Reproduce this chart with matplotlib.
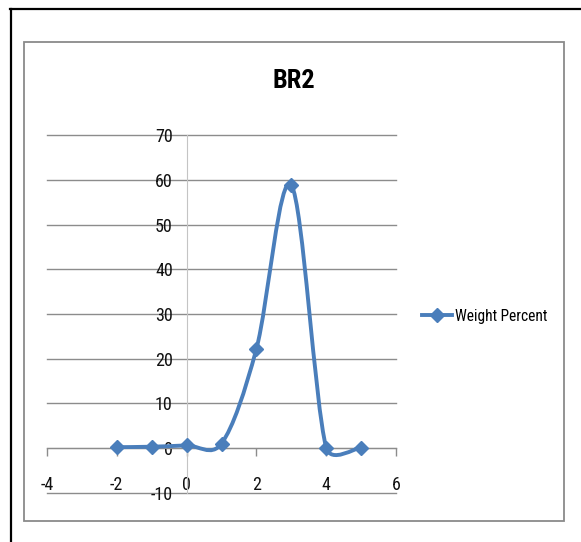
import matplotlib
matplotlib.use('Agg')
import matplotlib.pyplot as plt
import numpy as np
from matplotlib import font_manager
from matplotlib.path import Path
from matplotlib.patches import PathPatch, Rectangle
from matplotlib.lines import Line2D

# prefer a narrow face if one is around
installed = {f.name for f in font_manager.fontManager.ttflist}
narrow = [n for n in ['Liberation Sans Narrow', 'Roboto Condensed', 'DejaVu Sans Condensed',
                      'Open Sans Condensed', 'Noto Sans Condensed'] if n in installed]
plt.rcParams['font.family'] = narrow + ['Liberation Sans', 'DejaVu Sans']
if narrow:
    plt.rcParams['font.stretch'] = 'condensed'

# data
x_vals = [-2, -1, 0, 1, 2, 3, 4, 5]
weight_pct = [0.2, 0.3, 0.6, 1.0, 22.2, 58.9, 0.1, 0.1]
x_ticks = [-4, -2, 0, 2, 4, 6]
y_ticks = [-10, 0, 10, 20, 30, 40, 50, 60, 70]
title = 'BR2'
series_name = 'Weight Percent'

blue = '#4a7ebb'
grid_c = '#8c8c8c'
axis_c = '#c4c4c4'

W, H = 581, 542
fig = plt.figure(figsize=(W / 100, H / 100), dpi=100)

# outer frame (black) and chart area border (grey)
fig.add_artist(Line2D([10 / W, 1], [1 - 9 / H, 1 - 9 / H], color='black', lw=1.6,
                      transform=fig.transFigure))
fig.add_artist(Line2D([11 / W, 11 / W], [0, 1 - 9 / H], color='black', lw=1.6,
                      transform=fig.transFigure))
fig.add_artist(Rectangle((24 / W, 1 - 521 / H), 540 / W, 479 / H, fill=False,
                         edgecolor='#8a8a8a', lw=1.3, transform=fig.transFigure))

ax = fig.add_axes([47 / W, 1 - 492.7 / H, 349 / W, 357.2 / H])
ax.set_xlim(-4, 6)
ax.set_ylim(-10, 70)

for s in ['top', 'right']:
    ax.spines[s].set_visible(False)
ax.spines['left'].set_position(('data', 0))
ax.spines['left'].set_color(axis_c)
ax.spines['bottom'].set_position(('data', 0))
ax.spines['bottom'].set_color(grid_c)

tick_fs = 13 if narrow else 11.5
ax.set_yticks(y_ticks)
ax.set_yticklabels([str(v) for v in y_ticks])
ax.set_xticks(x_ticks)
ax.set_xticklabels([str(v) for v in x_ticks])
ax.tick_params(axis='y', length=0, pad=10, labelsize=tick_fs, colors='#111111')
ax.tick_params(axis='x', direction='out', length=6, width=1, color=grid_c,
               pad=14, labelsize=tick_fs, labelcolor='#111111')
ax.grid(axis='y', color=grid_c, lw=1)
for gl in ax.get_ygridlines():
    gl.set_clip_on(False)
ax.set_axisbelow(True)
for lbl in ax.get_yticklabels():
    lbl.set_zorder(5)

# smoothed line: cubic bezier, tangent = (next - prev) * f,
# f = 1/6 but capped at half the neighbouring segment (screen space)
pts = ax.transData.transform(np.column_stack([x_vals, weight_pct]))
n = len(pts)
ctrl_in, ctrl_out = [], []
for i in range(n):
    prev = pts[i - 1] if i > 0 else pts[i]
    nxt = pts[i + 1] if i < n - 1 else pts[i]
    d02 = np.hypot(*(nxt - prev))
    d01 = np.hypot(*(pts[i] - prev))
    d12 = np.hypot(*(nxt - pts[i]))
    f_in = min(1 / 6, 0.5 * d01 / d02) if d02 else 0
    f_out = min(1 / 6, 0.5 * d12 / d02) if d02 else 0
    if i == 0:
        f_out = 1 / 6
    if i == n - 1:
        f_in = 1 / 6
    ctrl_in.append(pts[i] - f_in * (nxt - prev))
    ctrl_out.append(pts[i] + f_out * (nxt - prev))
verts = [pts[0]]
codes = [Path.MOVETO]
for i in range(n - 1):
    verts += [ctrl_out[i], ctrl_in[i + 1], pts[i + 1]]
    codes += [Path.CURVE4] * 3
verts = ax.transData.inverted().transform(np.array(verts))
ax.add_patch(PathPatch(Path(verts, codes), fill=False, edgecolor=blue, lw=2.8,
                       capstyle='round', joinstyle='round', zorder=3))
ax.plot(x_vals, weight_pct, linestyle='none', marker='D', markersize=7.5,
        color=blue, zorder=4)

handle = Line2D([], [], color=blue, lw=2.8, marker='D', markersize=7.5)
ax.legend([handle], [series_name], loc='center left', frameon=False,
          bbox_to_anchor=(422 / W, 1 - 316 / H), bbox_transform=fig.transFigure,
          fontsize=11.2 if narrow else 10, handlelength=1.92, handletextpad=0.2,
          borderpad=0, borderaxespad=0)

fig.text(294 / W, 1 - 81 / H, title, ha='center', va='center',
         fontsize=19 if narrow else 16, fontweight='bold')

fig.savefig('out.png', dpi=100)
